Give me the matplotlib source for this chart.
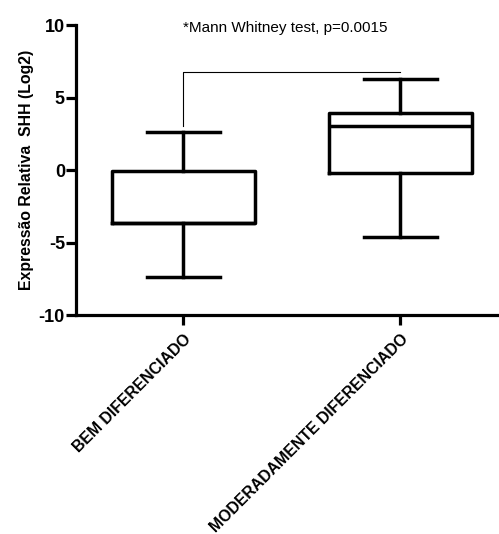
import matplotlib
matplotlib.use("Agg")
import matplotlib.pyplot as plt

plt.rcParams['font.family'] = ['Liberation Sans', 'DejaVu Sans']
plt.rcParams['axes.unicode_minus'] = False

categories = ["BEM DIFERENCIADO", "MODERADAMENTE DIFERENCIADO"]
whisker_low = [-7.35, -4.65]
q1 = [-3.62, -0.2]
median = [-3.62, 3.05]
q3 = [-0.05, 3.92]
whisker_high = [2.65, 6.27]
y_ticks = [-10, -5, 0, 5, 10]
sig_text = "*Mann Whitney test, p=0.0015"
sig_y = 6.75
sig_drop = 3.05

fig = plt.figure(figsize=(4.99, 5.34), dpi=100)
ax = fig.add_axes([0.1523, 0.410, 0.846, 0.543])

stats = []
for i, name in enumerate(categories):
    stats.append(dict(label=name, whislo=whisker_low[i], q1=q1[i], med=median[i],
                      q3=q3[i], whishi=whisker_high[i], fliers=[]))

lw = 2.5
positions = list(range(1, len(categories) + 1))
ax.bxp(stats, positions=positions, widths=0.655, capwidths=0.34, showfliers=False,
       boxprops=dict(color='black', linewidth=lw),
       whiskerprops=dict(color='black', linewidth=lw),
       capprops=dict(color='black', linewidth=lw),
       medianprops=dict(color='black', linewidth=lw))

# significance bracket
ax.plot([positions[0], positions[0], positions[1]], [sig_drop, sig_y, sig_y],
        color='black', linewidth=0.8)
ax.text(1.47, 9.8, sig_text, ha='center', va='center', fontsize=11)

ax.set_xlim(0.505, 2.45)
ax.set_ylim(-10, 10)
ax.set_yticks(y_ticks)
ax.set_yticklabels([str(t) for t in y_ticks], fontsize=13, fontweight='bold')
ax.set_xticks(positions)
ax.set_xticklabels(categories, rotation=45, ha='right', rotation_mode='anchor',
                   fontsize=11.4, fontweight='bold')

ax.spines['top'].set_visible(False)
ax.spines['right'].set_visible(False)
ax.spines['left'].set_linewidth(2.3)
ax.spines['bottom'].set_linewidth(2.3)
ax.tick_params(axis='both', width=2.3, length=7, color='black', pad=1)
ax.tick_params(axis='x', pad=5)

ax.set_ylabel("Expressão Relativa  SHH (Log2)", fontsize=11.4, fontweight='bold', labelpad=3)

fig.savefig("out.png", dpi=100)
